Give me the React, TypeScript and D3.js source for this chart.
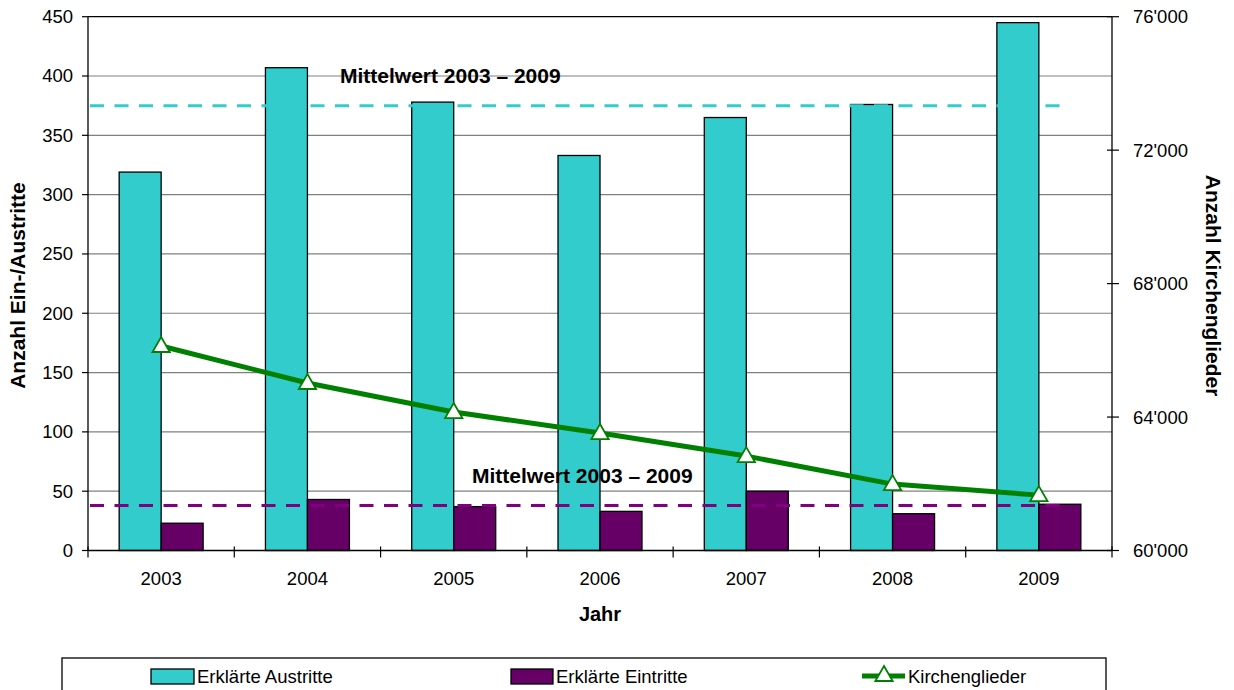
import React from "react";
import * as d3 from "d3";

const years = ["2003", "2004", "2005", "2006", "2007", "2008", "2009"];
const austritte = [319, 407, 378, 333, 365, 376, 445];
const eintritte = [23, 43, 37, 33, 50, 31, 39];
const kirchenglieder = [66130, 65020, 64150, 63520, 62830, 61990, 61660];
const meanAustritte = 375;
const meanEintritte = 38;
const leftTicks = [0, 50, 100, 150, 200, 250, 300, 350, 400, 450];
const rightTicks = [60000, 64000, 68000, 72000, 76000];
const meanLabel = "Mittelwert 2003 – 2009";

const W = 1234;
const H = 690;
const M = { left: 88, right: 1112, top: 16.7, bottom: 550.5 };
const FONT = "'Liberation Sans', Arial, Helvetica, sans-serif";
const CYAN = "#33CCCC";
const PURPLE = "#660066";
const PURPLE_DASH = "#800080";
const GREEN = "#008000";

export default function App() {
  const x = d3.scaleBand<string>().domain(years).range([M.left, M.right]).padding(0);
  const yL = d3.scaleLinear().domain([0, 450]).range([M.bottom, M.top]);
  const yR = d3.scaleLinear().domain([60000, 76000]).range([M.bottom, M.top]);
  const bw = x.bandwidth() * 0.287;
  const center = (yr: string) => (x(yr) as number) + x.bandwidth() / 2;

  const line = d3
    .line<number>()
    .x((_, i) => center(years[i]))
    .y((d) => yR(d));
  const tri = d3.symbol().type(d3.symbolTriangle).size(130)();

  const fmtR = (v: number) => d3.format(",")(v).replace(/,/g, "'");

  return (
    <svg
      width={W}
      height={H}
      style={{ position: "absolute", left: 0, top: 0, background: "#fff" }}
      fontFamily={FONT}
    >
      <rect x={0} y={0} width={W} height={H} fill="#fff" />
      {leftTicks.map((t) => (
        <line
          key={"g" + t}
          x1={M.left}
          x2={M.right}
          y1={yL(t)}
          y2={yL(t)}
          stroke={t === 450 ? "#000" : "#808080"}
          strokeWidth={1.2}
        />
      ))}
      {years.map((yr, i) => (
        <g key={yr}>
          <rect
            x={center(yr) - bw}
            y={yL(austritte[i])}
            width={bw}
            height={yL(0) - yL(austritte[i])}
            fill={CYAN}
            stroke="#000"
            strokeWidth={1.3}
          />
          <rect
            x={center(yr)}
            y={yL(eintritte[i])}
            width={bw}
            height={yL(0) - yL(eintritte[i])}
            fill={PURPLE}
            stroke="#000"
            strokeWidth={1.3}
          />
        </g>
      ))}
      <line
        x1={M.left + 2}
        x2={1070}
        y1={yL(meanAustritte)}
        y2={yL(meanAustritte)}
        stroke={CYAN}
        strokeWidth={3}
        strokeDasharray="14 10.5"
      />
      <line
        x1={M.left + 2}
        x2={1070}
        y1={yL(meanEintritte)}
        y2={yL(meanEintritte)}
        stroke={PURPLE_DASH}
        strokeWidth={3}
        strokeDasharray="14 10.5"
      />
      <line x1={M.left} x2={M.left} y1={M.top} y2={M.bottom} stroke="#000" strokeWidth={1.3} />
      <line x1={M.right} x2={M.right} y1={M.top} y2={M.bottom} stroke="#000" strokeWidth={1.3} />
      <line x1={M.left} x2={M.right} y1={M.bottom} y2={M.bottom} stroke="#000" strokeWidth={1.3} />
      {leftTicks.map((t) => (
        <g key={"lt" + t}>
          <line x1={M.left - 6} x2={M.left} y1={yL(t)} y2={yL(t)} stroke="#000" strokeWidth={1.2} />
          <text x={73} y={yL(t)} dy="0.35em" textAnchor="end" fontSize={18.5} fill="#000">
            {t}
          </text>
        </g>
      ))}
      {rightTicks.map((t) => (
        <g key={"rt" + t}>
          <line x1={M.right - 5} x2={M.right + 7} y1={yR(t)} y2={yR(t)} stroke="#000" strokeWidth={1.2} />
          <text x={1133} y={yR(t)} dy="0.35em" textAnchor="start" fontSize={18.5} fill="#000">
            {fmtR(t)}
          </text>
        </g>
      ))}
      {[...years.map((yr) => x(yr) as number), M.right].map((px, i) => (
        <line key={"xt" + i} x1={px} x2={px} y1={M.bottom - 4} y2={M.bottom + 7} stroke="#000" strokeWidth={1.2} />
      ))}
      {years.map((yr) => (
        <text key={"xl" + yr} x={center(yr)} y={585} textAnchor="middle" fontSize={18.5} fill="#000">
          {yr}
        </text>
      ))}
      <path d={line(kirchenglieder) || ""} fill="none" stroke={GREEN} strokeWidth={5} strokeLinejoin="round" />
      {kirchenglieder.map((v, i) => (
        <path
          key={"m" + i}
          d={tri || ""}
          transform={`translate(${center(years[i])},${yR(v) + 1})`}
          fill="#fff"
          stroke={GREEN}
          strokeWidth={1.8}
        />
      ))}
      <text x={340} y={83} fontSize={21} fontWeight="bold" fill="#000">
        {meanLabel}
      </text>
      <text x={472} y={483} fontSize={21} fontWeight="bold" fill="#000">
        {meanLabel}
      </text>
      <text
        transform={`translate(25,${(M.top + M.bottom) / 2 + 2}) rotate(-90)`}
        textAnchor="middle"
        fontSize={21}
        fontWeight="bold"
        fill="#000"
      >
        Anzahl Ein-/Austritte
      </text>
      <text
        transform={`translate(1206,${(M.top + M.bottom) / 2 + 2}) rotate(90)`}
        textAnchor="middle"
        fontSize={21}
        fontWeight="bold"
        fill="#000"
      >
        Anzahl Kirchenglieder
      </text>
      <text x={600} y={621} textAnchor="middle" fontSize={20} fontWeight="bold" fill="#000">
        Jahr
      </text>
      <rect x={62} y={658} width={1044} height={40} fill="#fff" stroke="#000" strokeWidth={1.3} />
      <rect x={151} y={669} width={43} height={15} fill={CYAN} stroke="#000" strokeWidth={1.3} />
      <text x={197} y={683} fontSize={18.5} fill="#000">Erklärte Austritte</text>
      <rect x={511} y={669} width={42} height={15} fill={PURPLE} stroke="#000" strokeWidth={1.3} />
      <text x={556} y={683} fontSize={18.5} fill="#000">Erklärte Eintritte</text>
      <line x1={862} x2={905} y1={676} y2={676} stroke={GREEN} strokeWidth={5} />
      <path d={tri || ""} transform="translate(884,676)" fill="#fff" stroke={GREEN} strokeWidth={1.8} />
      <text x={908} y={683} fontSize={18.5} fill="#000">Kirchenglieder</text>
    </svg>
  );
}
